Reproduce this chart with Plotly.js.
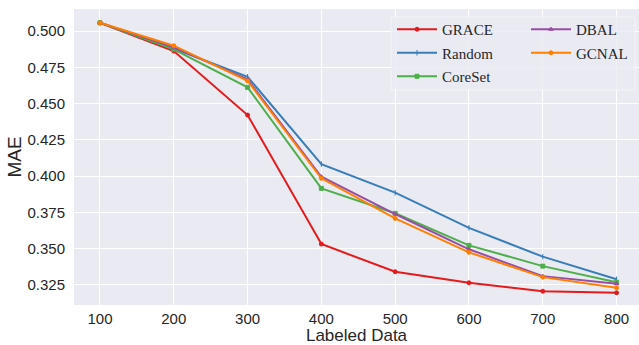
<!DOCTYPE html>
<html>
<head>
<meta charset="utf-8">
<script src="https://cdn.plot.ly/plotly-3.0.1.min.js"></script>
<style>html,body{margin:0;padding:0;background:#fff;}#chart{width:639px;height:345px;}</style>
</head>
<body>
<div id="chart"></div>
<script>
const labeled = [100, 200, 300, 400, 500, 600, 700, 800];
const grace   = [0.5057, 0.4862, 0.4421, 0.3532, 0.3341, 0.3265, 0.3207, 0.3196];
const random  = [0.5057, 0.4880, 0.4685, 0.4083, 0.3886, 0.3644, 0.3445, 0.3289];
const coreset = [0.5057, 0.4874, 0.4612, 0.3916, 0.3744, 0.3523, 0.3380, 0.3269];
const dbal    = [0.5057, 0.4888, 0.4667, 0.3996, 0.3739, 0.3496, 0.3311, 0.3259];
const gcnal   = [0.5057, 0.4899, 0.4657, 0.3985, 0.3709, 0.3475, 0.3304, 0.3231];
const yTicks = [0.325, 0.350, 0.375, 0.400, 0.425, 0.450, 0.475, 0.500];

const series = [
  {name: 'GRACE',   y: grace,   color: '#e41a1c', symbol: 'circle',        legend: 'legend'},
  {name: 'Random',  y: random,  color: '#377eb8', symbol: 'line-ns-open',  legend: 'legend'},
  {name: 'CoreSet', y: coreset, color: '#4daf4a', symbol: 'square',        legend: 'legend'},
  {name: 'DBAL',    y: dbal,    color: '#984ea3', symbol: 'triangle-up',   legend: 'legend2'},
  {name: 'GCNAL',   y: gcnal,   color: '#ff7f00', symbol: 'circle',        legend: 'legend2'}
];

const traces = series.map(s => ({
  x: labeled, y: s.y, name: s.name, type: 'scatter', mode: 'lines+markers',
  line: {color: s.color, width: 2},
  marker: {color: s.color, symbol: s.symbol, size: 4, line: {color: s.color, width: 1}},
  legend: s.legend, legendgroup: s.name
}));

const sans = '"Liberation Sans", Arial, sans-serif';
const tickFont = {family: sans, size: 15, color: '#262626'};
const legFont = {family: '"Liberation Serif", "Times New Roman", serif', size: 15, color: '#262626'};

const layout = {
  width: 639, height: 345,
  margin: {l: 74, r: 0, t: 9, b: 40},
  paper_bgcolor: '#ffffff',
  plot_bgcolor: '#eaeaf2',
  showlegend: true,
  xaxis: {
    range: [64.8, 830.4], tickvals: labeled, ticktext: labeled.map(String),
    showgrid: true, gridcolor: '#ffffff', gridwidth: 1, zeroline: false, showline: false,
    ticks: '', ticklabelstandoff: 3, tickfont: tickFont,
    title: {text: 'Labeled Data', font: {family: sans, size: 17, color: '#262626'}, standoff: 6}
  },
  yaxis: {
    range: [0.3112, 0.5152], tickvals: yTicks, ticktext: yTicks.map(v => v.toFixed(3)),
    showgrid: true, gridcolor: '#ffffff', gridwidth: 1, zeroline: false, showline: false,
    ticks: '', ticklabelstandoff: 8, tickfont: tickFont,
    title: {text: 'MAE', font: {family: sans, size: 19, color: '#262626'}, standoff: 0}
  },
  shapes: [{
    type: 'rect', xref: 'paper', yref: 'paper',
    x0: (391 - 74) / 565, x1: (635 - 74) / 565,
    y0: (305 - 90) / 296, y1: (305 - 17) / 296,
    fillcolor: 'rgba(234,234,242,0.8)', line: {color: '#f4f4f8', width: 1}, layer: 'above'
  }],
  legend: {
    x: (392 - 74) / 565, y: (305 - 13) / 296, xanchor: 'left', yanchor: 'top',
    bgcolor: 'rgba(0,0,0,0)', borderwidth: 0, font: legFont, tracegroupgap: 1, itemwidth: 40
  },
  legend2: {
    x: (526 - 74) / 565, y: (305 - 13) / 296, xanchor: 'left', yanchor: 'top',
    bgcolor: 'rgba(0,0,0,0)', borderwidth: 0, font: legFont, tracegroupgap: 1, itemwidth: 40
  }
};

Plotly.newPlot('chart', traces, layout, {displayModeBar: false, staticPlot: true});
</script>
</body>
</html>
